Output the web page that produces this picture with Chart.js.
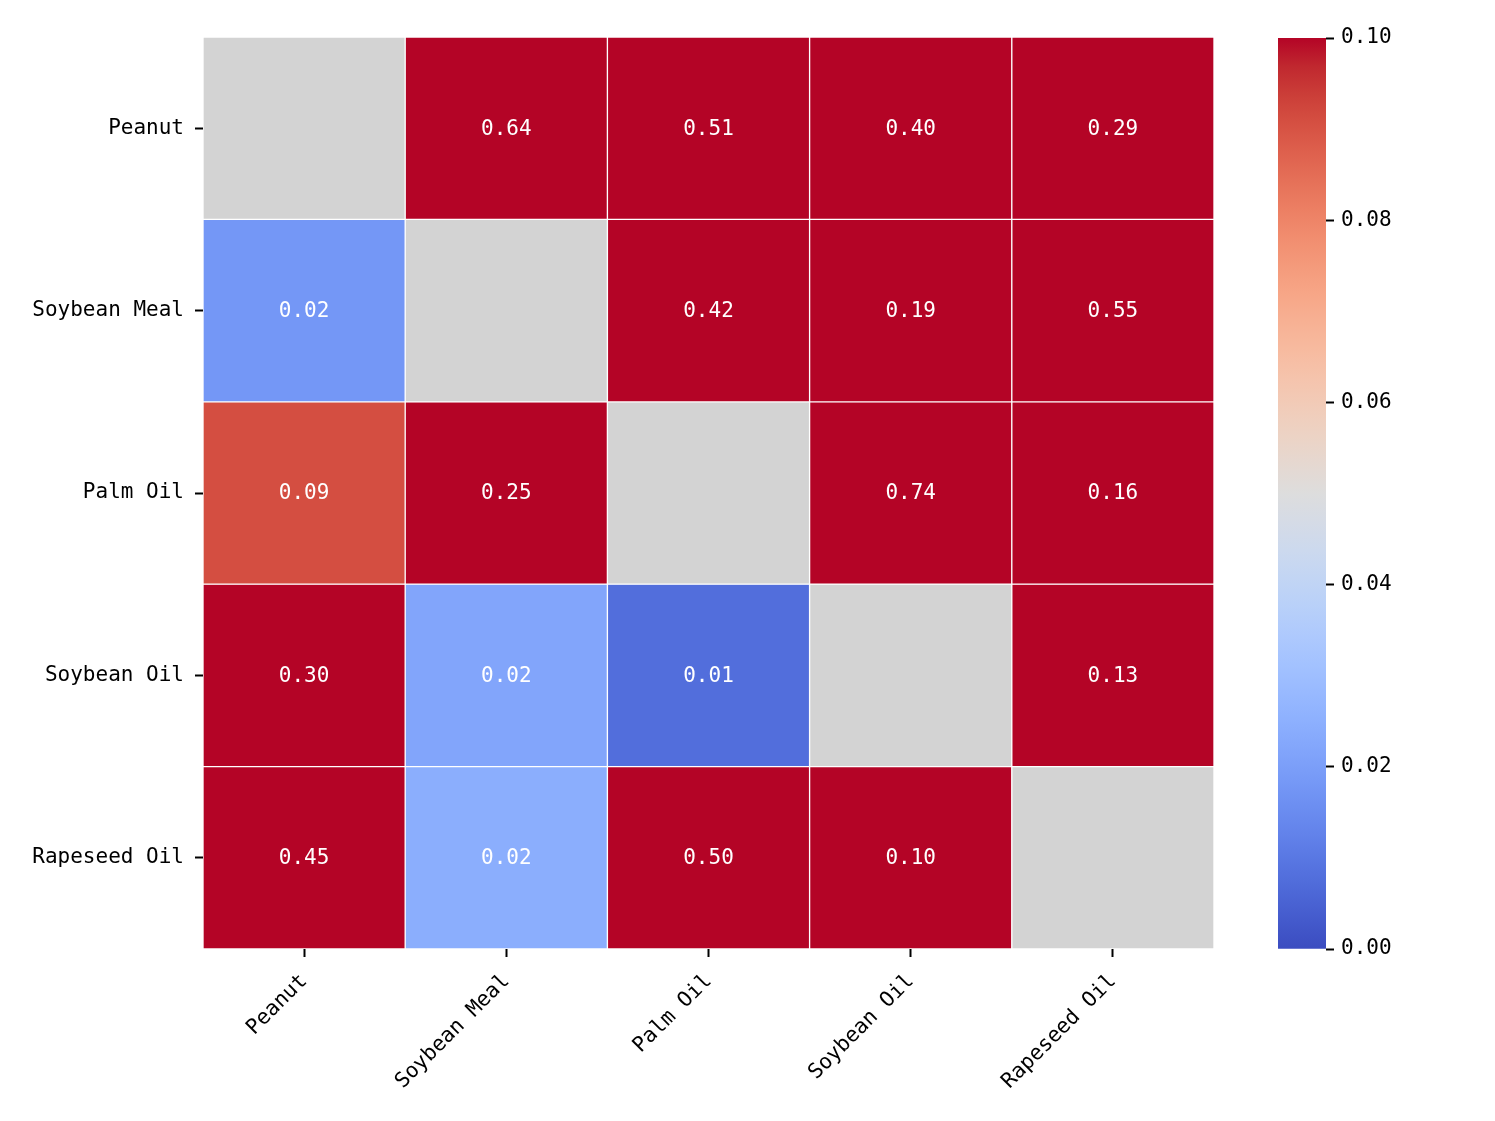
<!DOCTYPE html>
<html lang="en">
<head>
    <meta charset="UTF-8">
    <title>Correlation Heatmap</title>
    <script src="https://cdn.jsdelivr.net/npm/chart.js"></script>
    <style>
        body { margin: 0; background: #fff; }
        #wrap { position: relative; width: 1495px; height: 1121px; }
        #heatBox { position: absolute; left: 0; top: 0; width: 1495px; height: 1121px; }
        #barBox { position: absolute; left: 1200px; top: 0; width: 295px; height: 1121px; }
    </style>
</head>
<body>
    <div id="wrap">
        <div id="heatBox"><canvas id="heatmap"></canvas></div>
        <div id="barBox"><canvas id="colorbar"></canvas></div>
    </div>

    <script>
        // Data
        const rowLabels = ['Peanut', 'Soybean Meal', 'Palm Oil', 'Soybean Oil', 'Rapeseed Oil'];
        const colLabels = ['Peanut', 'Soybean Meal', 'Palm Oil', 'Soybean Oil', 'Rapeseed Oil'];
        const rowPeanut      = [NaN,   0.64,   0.51,   0.40, 0.29];
        const rowSoybeanMeal = [0.018, NaN,    0.42,   0.19, 0.55];
        const rowPalmOil     = [0.091, 0.25,   NaN,    0.74, 0.16];
        const rowSoybeanOil  = [0.30,  0.0218, 0.0078, NaN,  0.13];
        const rowRapeseedOil = [0.45,  0.0243, 0.50,   0.10, NaN];
        const matrix = [rowPeanut, rowSoybeanMeal, rowPalmOil, rowSoybeanOil, rowRapeseedOil];
        const vmin = 0.0;
        const vmax = 0.1;
        const cbTicks = [0.00, 0.02, 0.04, 0.06, 0.08, 0.10];

        // coolwarm (Moreland) lookup, 33 entries
        const coolwarm = [
            [59,76,192],[68,90,204],[77,104,215],[87,117,225],[98,130,234],[108,142,241],
            [119,154,247],[130,165,251],[141,176,254],[152,185,255],[163,194,255],[174,201,253],
            [184,208,249],[194,213,244],[204,217,238],[213,219,230],[221,221,221],[229,216,209],
            [236,211,197],[241,204,185],[245,196,173],[247,187,160],[247,177,148],[247,166,135],
            [244,154,123],[241,141,111],[236,127,99],[229,112,88],[222,96,77],[213,80,66],
            [203,62,56],[192,40,47],[180,4,38]
        ];

        function cmap(t) {
            t = Math.min(1, Math.max(0, t));
            const pos = t * (coolwarm.length - 1);
            const i = Math.min(coolwarm.length - 2, Math.floor(pos));
            const f = pos - i;
            const a = coolwarm[i], b = coolwarm[i + 1];
            const c = a.map((v, k) => Math.round(v + (b[k] - v) * f));
            return 'rgb(' + c.join(',') + ')';
        }

        function cellColor(v) {
            if (isNaN(v)) return '#d3d3d3';
            return cmap((v - vmin) / (vmax - vmin));
        }

        const FONT = "'DejaVu Sans Mono', monospace";

        // one dataset per row, floating bars [r, r+1] on a reversed linear y axis
        const datasets = matrix.map((row, r) => ({
            label: rowLabels[r],
            data: row.map(() => [r, r + 1]),
            values: row,
            backgroundColor: row.map(cellColor),
            borderColor: '#ffffff',
            borderWidth: 1,
            borderSkipped: false,
            barPercentage: 1.0,
            categoryPercentage: 1.0,
            grouped: false,
        }));

        // Draw cell annotations
        const annotatePlugin = {
            id: 'annotate',
            afterDatasetsDraw(chart) {
                const ctx = chart.ctx;
                ctx.save();
                ctx.font = '21px ' + FONT;
                ctx.fillStyle = '#ffffff';
                ctx.textAlign = 'center';
                ctx.textBaseline = 'middle';
                chart.data.datasets.forEach((ds, di) => {
                    const meta = chart.getDatasetMeta(di);
                    meta.data.forEach((el, i) => {
                        const v = ds.values[i];
                        if (isNaN(v)) return;
                        ctx.fillText(v.toFixed(2), el.x, (el.y + el.base) / 2 + 1);
                    });
                });
                ctx.restore();
            }
        };

        new Chart(document.getElementById('heatmap'), {
            type: 'bar',
            data: { labels: colLabels, datasets: datasets },
            plugins: [annotatePlugin],
            options: {
                responsive: true,
                maintainAspectRatio: false,
                animation: false,
                layout: { padding: { left: 0, top: 37, right: 281, bottom: 0 } },
                plugins: { legend: { display: false }, tooltip: { enabled: false } },
                scales: {
                    x: {
                        type: 'category',
                        offset: true,
                        border: { display: false },
                        grid: { display: true, drawOnChartArea: false, drawTicks: true, tickLength: 8, tickColor: '#000', tickWidth: 2, offset: false },
                        ticks: { color: '#000', font: { family: FONT, size: 21 }, maxRotation: 45, minRotation: 45, autoSkip: false, padding: 12 },
                        afterFit(scale) { scale.height = 172; }
                    },
                    y: {
                        type: 'linear',
                        min: 0,
                        max: 5,
                        reverse: true,
                        border: { display: false },
                        afterBuildTicks(scale) {
                            scale.ticks = rowLabels.map((_, i) => ({ value: i + 0.5 }));
                        },
                        grid: { display: true, drawOnChartArea: false, drawTicks: true, tickLength: 8, tickColor: '#000', tickWidth: 2 },
                        ticks: {
                            color: '#000',
                            font: { family: FONT, size: 21 },
                            padding: 11,
                            callback: (value) => rowLabels[Math.floor(value)]
                        },
                        afterFit(scale) { scale.width = 203; }
                    }
                }
            }
        });

        // Colorbar
        function gradientFill(context) {
            const chart = context.chart;
            const area = chart.chartArea;
            if (!area) return '#dddddd';
            const ys = chart.scales.y;
            const g = chart.ctx.createLinearGradient(0, ys.getPixelForValue(vmin), 0, ys.getPixelForValue(vmax));
            coolwarm.forEach((c, i) => g.addColorStop(i / (coolwarm.length - 1), 'rgb(' + c.join(',') + ')'));
            return g;
        }

        new Chart(document.getElementById('colorbar'), {
            type: 'bar',
            data: {
                labels: ['cb'],
                datasets: [{
                    data: [[vmin, vmax]],
                    backgroundColor: gradientFill,
                    borderWidth: 0,
                    barPercentage: 1.0,
                    categoryPercentage: 1.0,
                }]
            },
            options: {
                responsive: true,
                maintainAspectRatio: false,
                animation: false,
                layout: { padding: { left: 78, top: 38, right: 0, bottom: 172 } },
                plugins: { legend: { display: false }, tooltip: { enabled: false } },
                scales: {
                    x: { display: false },
                    y: {
                        position: 'right',
                        min: vmin,
                        max: vmax,
                        border: { display: false },
                        afterBuildTicks(scale) {
                            scale.ticks = cbTicks.map(v => ({ value: v }));
                        },
                        grid: { display: true, drawOnChartArea: false, drawTicks: true, tickLength: 8, tickColor: '#000', tickWidth: 2 },
                        ticks: {
                            color: '#000',
                            font: { family: FONT, size: 21 },
                            padding: 7,
                            callback: (value) => value.toFixed(2)
                        },
                        afterFit(scale) { scale.width = 169; }
                    }
                }
            }
        });
    </script>
</body>
</html>
